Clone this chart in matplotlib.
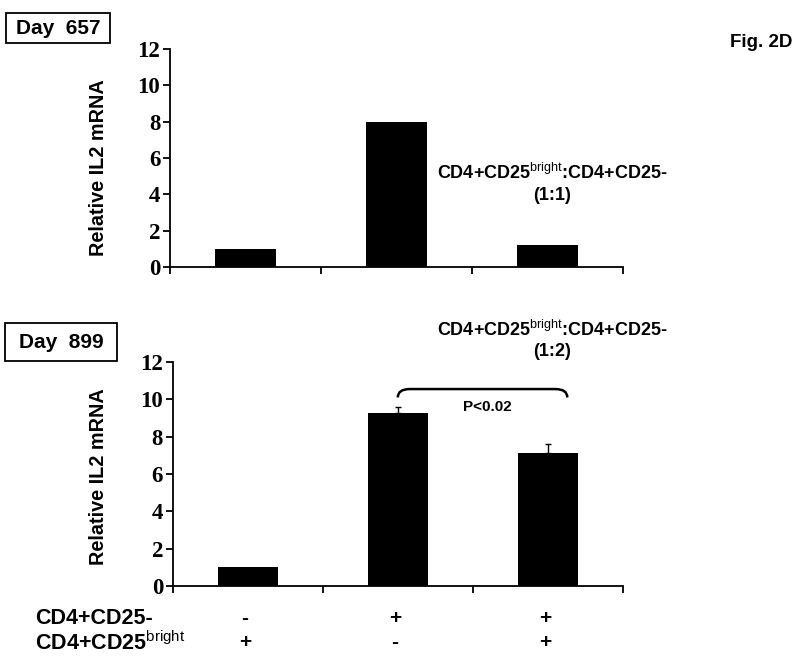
import numpy as np
import matplotlib
matplotlib.use('Agg')
import matplotlib.pyplot as plt
from matplotlib.patches import Rectangle, PathPatch
from matplotlib.path import Path
import matplotlib.transforms as mtransforms

plt.rcParams['font.family'] = 'Liberation Sans'
plt.rcParams['mathtext.fontset'] = 'custom'
plt.rcParams['mathtext.rm'] = 'Liberation Sans'

## data
groups = [0, 1, 2]
day657 = [1.0, 8.0, 1.2]
day899 = [1.0, 9.25, 7.1]
day899_err = [0.0, 0.35, 0.5]
row_cd25neg = ['-', '+', '+']
row_cd25bright = ['+', '-', '+']
yticks = [0, 2, 4, 6, 8, 10, 12]

fig = plt.figure(figsize=(8, 6.59), dpi=100)
ax1 = fig.add_axes([0.2125, 0.5948, 0.566, 0.3308])
ax2 = fig.add_axes([0.216, 0.1108, 0.5625, 0.3399])

def style(ax, labx, laby):
    ax.set_xlim(-0.5, 2.5)
    ax.set_ylim(0, 12)
    ax.set_yticks(yticks)
    ax.set_xticks([-0.5, 0.5, 1.5, 2.5])
    ax.set_xticklabels([])
    for s in ['top', 'right']:
        ax.spines[s].set_visible(False)
    for s in ['left', 'bottom']:
        ax.spines[s].set_linewidth(1.3)
    ax.tick_params(direction='out', length=5, width=1.3)
    ax.tick_params(axis='y', pad=2)
    for lab in ax.get_yticklabels():
        lab.set_fontfamily('Liberation Serif')
        lab.set_fontweight('bold')
        lab.set_fontsize(16.5)
    ax.set_ylabel('Relative IL2 mRNA', fontsize=14.3, fontweight='bold')
    ax.yaxis.set_label_coords(labx, laby)

ax1.bar(groups, day657, width=0.4, color='black')
style(ax1, -0.137, 0.457)

ax2.bar(groups, day899, width=0.4, color='black')
has_err = [i for i in groups if day899_err[i] > 0]
ax2.errorbar([groups[i] for i in has_err], [day899[i] for i in has_err],
             yerr=[np.zeros(len(has_err)), [day899_err[i] for i in has_err]],
             fmt='none', ecolor='black', elinewidth=1, capsize=2.5, capthick=1)
style(ax2, -0.144, 0.49)

# significance bracket between bar 2 and bar 3
x0, x1, ytop, ydrop = groups[1], groups[2] + 0.13, 10.55, 0.45
verts = [(x0, ytop - ydrop), (x0, ytop), (x0 + 0.08, ytop),
         (x1 - 0.08, ytop), (x1, ytop), (x1, ytop - ydrop)]
codes = [Path.MOVETO, Path.CURVE3, Path.CURVE3, Path.LINETO, Path.CURVE3, Path.CURVE3]
ax2.add_patch(PathPatch(Path(verts, codes), fill=False, lw=1.8, color='black', clip_on=False))
ax2.text(1.6, 9.6, 'P<0.02', ha='center', va='center', fontsize=11, fontweight='bold')

# annotations
ratio = r'CD4+CD25$^{\rm bright}$:CD4+CD25-'
fig.text(0.69, 0.737, ratio, ha='center', va='center', fontsize=13, fontweight='bold')
fig.text(0.69, 0.704, '(1:1)', ha='center', va='center', fontsize=13, fontweight='bold')
fig.text(0.69, 0.499, ratio, ha='center', va='center', fontsize=13, fontweight='bold')
fig.text(0.69, 0.466, '(1:2)', ha='center', va='center', fontsize=13, fontweight='bold')
fig.text(0.951, 0.935, 'Fig. 2D', ha='center', va='center', fontsize=13.5, fontweight='bold')

# day boxes
fig.patches.append(Rectangle((6/800, 1 - 43/659), 104/800, 30/659, transform=fig.transFigure,
                             fill=False, lw=1.3, ec='black'))
fig.text(58/800, 1 - 28/659, 'Day  657', ha='center', va='center', fontsize=15, fontweight='bold')
fig.patches.append(Rectangle((5/800, 1 - 361/659), 112/800, 38/659, transform=fig.transFigure,
                             fill=False, lw=1.3, ec='black'))
fig.text(61/800, 1 - 342/659, 'Day  899', ha='center', va='center', fontsize=15, fontweight='bold')

# condition rows under the bottom panel
fig.text(35/800, 0.0607, 'CD4+CD25-', ha='left', va='center', fontsize=15.5, fontweight='bold')
fig.text(35/800, 0.0243, r'CD4+CD25$^{\rm bright}$', ha='left', va='center', fontsize=15.5, fontweight='bold')
trans = mtransforms.blended_transform_factory(ax2.transData, fig.transFigure)
for g, a, b in zip(groups, row_cd25neg, row_cd25bright):
    ax2.text(g - 0.02, 0.0607, a, transform=trans, ha='center', va='center', fontsize=15, fontweight='bold')
    ax2.text(g - 0.02, 0.0243, b, transform=trans, ha='center', va='center', fontsize=15, fontweight='bold')

fig.savefig('out.png', dpi=100)
